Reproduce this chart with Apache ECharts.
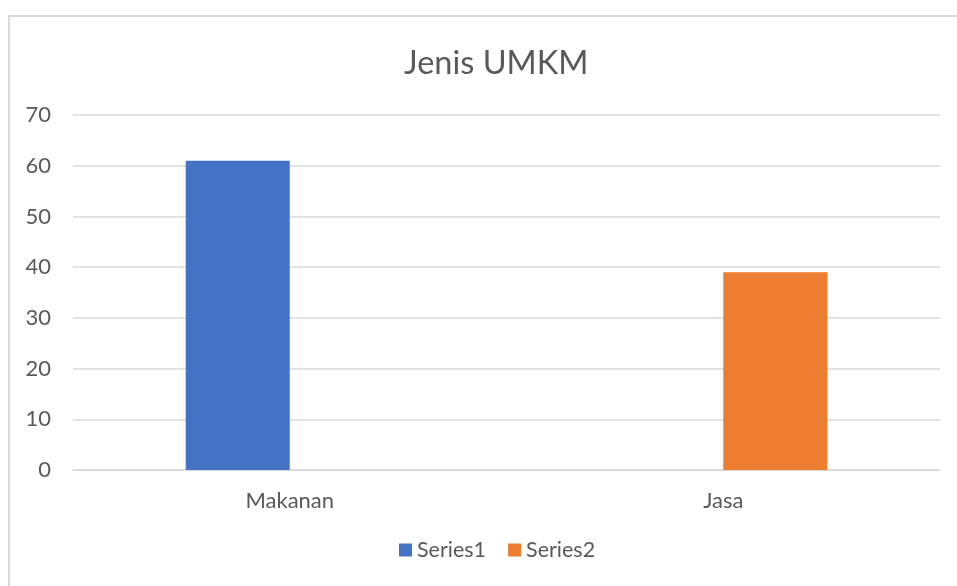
<!DOCTYPE html>
<html>
<head>
<meta charset="utf-8">
<script src="https://cdn.jsdelivr.net/npm/echarts@6/dist/echarts.min.js"></script>
<style>
html, body { margin: 0; padding: 0; background: #fff; }
#chart { width: 957px; height: 586px; }
</style>
</head>
<body>
<div id="chart"></div>
<script>
// data
var categories = ['Makanan', 'Jasa'];
var series1 = [61, 0];
var series2 = [0, 39];
var yTicks = [0, 10, 20, 30, 40, 50, 60, 70];

var chartObj = document.getElementById('chart');
var chart = echarts.init(chartObj);

var textColor = '#595959';
var fontName = 'Lato, "Open Sans", sans-serif';

var option = {
    animation: false,
    backgroundColor: '#fff',
    title: {
        text: 'Jenis UMKM',
        left: 399,
        top: 42,
        textStyle: {
            color: textColor,
            fontFamily: fontName,
            fontWeight: 'normal',
            fontSize: 32.5
        }
    },
    graphic: [
        {
            type: 'rect',
            shape: { x: 9, y: 16, width: 960, height: 600 },
            style: { fill: 'none', stroke: '#d9d9d9', lineWidth: 2 },
            silent: true
        }
    ],
    legend: {
        bottom: 20,
        left: 394,
        itemWidth: 13,
        itemHeight: 13,
        itemGap: 22,
        icon: 'rect',
        textStyle: { color: textColor, fontFamily: fontName, fontSize: 21.5 },
        data: ['Series1', 'Series2']
    },
    grid: {
        left: 73,
        right: 17,
        top: 115,
        bottom: 116
    },
    xAxis: {
        type: 'category',
        data: categories,
        axisLine: { lineStyle: { color: '#d9d9d9', width: 1.5 } },
        axisTick: { show: false },
        axisLabel: {
            color: textColor,
            fontFamily: fontName,
            fontSize: 22,
            margin: 20
        }
    },
    yAxis: {
        type: 'value',
        min: yTicks[0],
        max: yTicks[yTicks.length - 1],
        interval: 10,
        axisLine: { show: false },
        axisTick: { show: false },
        splitLine: { lineStyle: { color: '#d9d9d9', width: 1.5 } },
        axisLabel: {
            color: textColor,
            fontFamily: fontName,
            fontSize: 22,
            margin: 22
        }
    },
    series: [
        {
            name: 'Series1',
            type: 'bar',
            data: series1,
            itemStyle: { color: '#4472C4' },
            barGap: '0%',
            barCategoryGap: '52%'
        },
        {
            name: 'Series2',
            type: 'bar',
            data: series2,
            itemStyle: { color: '#ED7D31' },
            barGap: '0%',
            barCategoryGap: '52%'
        }
    ]
};
chart.setOption(option);
</script>
</body>
</html>
